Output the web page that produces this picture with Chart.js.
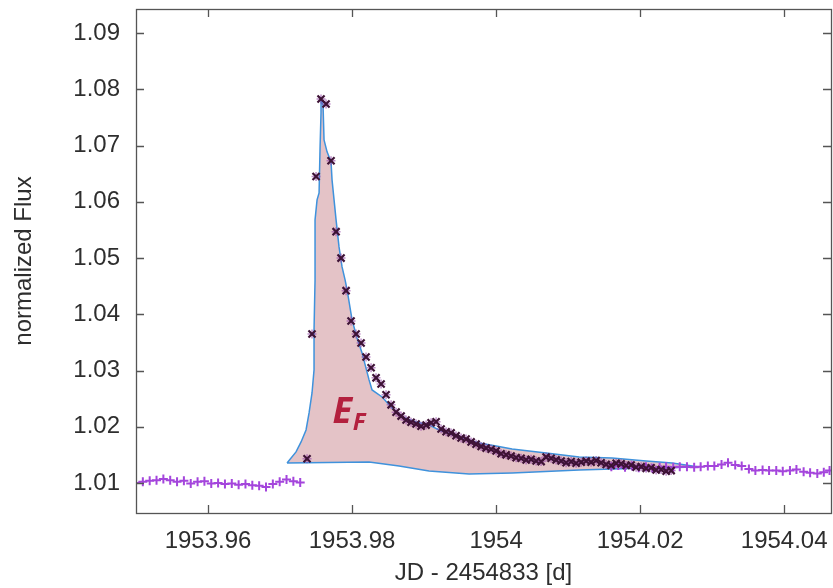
<!DOCTYPE html>
<html>
<head>
<meta charset="utf-8">
<script src="https://cdn.jsdelivr.net/npm/chart.js@4.4.1/dist/chart.umd.min.js"></script>
<style>
  html, body { margin: 0; padding: 0; background: #fff; }
  #wrap { width: 833px; height: 588px; }
</style>
</head>
<body>
<div id="wrap"><canvas id="lc"></canvas></div>
<script>
// --- AXIS TICKS ---
const xTicks = [1953.96, 1953.98, 1954.00, 1954.02, 1954.04];
const yTicks = [1.01, 1.02, 1.03, 1.04, 1.05, 1.06, 1.07, 1.08, 1.09];

// --- QUIET LIGHT CURVE (before the flare) ---
const quietBeforeT = [1953.9500, 1953.95095, 1953.9519, 1953.95285, 1953.9538, 1953.95475, 1953.9557,
  1953.95665, 1953.9576, 1953.95855, 1953.9595, 1953.96045, 1953.9614, 1953.96235, 1953.9633,
  1953.96425, 1953.9652, 1953.96615, 1953.9671, 1953.96805, 1953.969, 1953.96995, 1953.9709,
  1953.97185, 1953.9728];
const quietBeforeF = [1.0100, 1.0102, 1.0104, 1.0105, 1.0107, 1.0105, 1.0102, 1.0104, 1.0099,
  1.0102, 1.0103, 1.0099, 1.0100, 1.0098, 1.0099, 1.0097, 1.0098, 1.0096, 1.0095, 1.0093,
  1.0098, 1.0102, 1.0106, 1.0103, 1.0101];

// --- FLARE POINTS ---
const flareT = [1953.97375, 1953.97444, 1953.97500, 1953.97569, 1953.97639, 1953.97708, 1953.97778,
  1953.97847, 1953.97917, 1953.97986, 1953.98056, 1953.98125, 1953.98194, 1953.98264, 1953.98333,
  1953.98403, 1953.98472, 1953.98542, 1953.98611, 1953.98681, 1953.98750, 1953.98819, 1953.98889,
  1953.98958, 1953.99028, 1953.99097, 1953.99167, 1953.99236, 1953.99306, 1953.99375, 1953.99444,
  1953.99514, 1953.99583, 1953.99653, 1953.99722, 1953.99792, 1953.99861, 1953.99931, 1954.00000,
  1954.00069, 1954.00139, 1954.00208, 1954.00278, 1954.00347, 1954.00417, 1954.00486, 1954.00556,
  1954.00625, 1954.00694, 1954.00764, 1954.00833, 1954.00903, 1954.00972, 1954.01042, 1954.01111,
  1954.01181, 1954.01250, 1954.01319, 1954.01389, 1954.01458, 1954.01528, 1954.01597, 1954.01667,
  1954.01736, 1954.01806, 1954.01875, 1954.01944, 1954.02014, 1954.02083, 1954.02153, 1954.02222,
  1954.02292, 1954.02361, 1954.02431];
const flareF = [1.0143, 1.0365, 1.0645, 1.0783, 1.0774, 1.0673, 1.0547, 1.0500, 1.0442, 1.0388,
  1.0365, 1.0349, 1.0324, 1.0305, 1.0287, 1.0276, 1.0257, 1.0239, 1.0226, 1.0219,
  1.0212, 1.0208, 1.0205, 1.0201, 1.0203, 1.0207, 1.0209, 1.0196, 1.0191, 1.0189,
  1.0184, 1.0180, 1.0178, 1.0173, 1.0169, 1.0165, 1.0162, 1.0160, 1.0157, 1.0152,
  1.0150, 1.0148, 1.0145, 1.0144, 1.0141, 1.0142, 1.0139, 1.0138, 1.0146, 1.0144,
  1.0141, 1.0139, 1.0136, 1.0138, 1.0135, 1.0137, 1.0139, 1.0137, 1.0140, 1.0136,
  1.0133, 1.0131, 1.0135, 1.0134, 1.0131, 1.0132, 1.0128, 1.0129, 1.0126, 1.0127,
  1.0123, 1.0124, 1.0121, 1.0122];

// --- QUIET LIGHT CURVE (after the flare) ---
const quietAfterT = [1954.0160, 1954.01696, 1954.0179, 1954.01887, 1954.0198, 1954.0208, 1954.0217,
  1954.0227, 1954.0236, 1954.0246, 1954.0255, 1954.0265, 1954.0275, 1954.0284, 1954.0294,
  1954.0303, 1954.0313, 1954.0322, 1954.0332, 1954.0341, 1954.0351, 1954.0360, 1954.0370,
  1954.0379, 1954.0389, 1954.0398, 1954.0408, 1954.0417, 1954.0427, 1954.0436, 1954.0446,
  1954.0455, 1954.0463];
const quietAfterF = [1.0129, 1.0131, 1.0128, 1.0130, 1.0127, 1.0129, 1.0126, 1.0128, 1.0129,
  1.0128, 1.0129, 1.0129, 1.0128, 1.0129, 1.0130, 1.0130, 1.0133, 1.0136, 1.0132, 1.0130,
  1.0125, 1.0122, 1.0123, 1.0122, 1.0122, 1.0121, 1.0122, 1.0124, 1.0120, 1.0118, 1.0117,
  1.0119, 1.0122];

// --- FLARE ENERGY AREA (closed outline) ---
const areaT = [1953.97097, 1953.97222, 1953.97292, 1953.97361, 1953.97403, 1953.97444, 1953.97472,
  1953.97472, 1953.97486, 1953.97486, 1953.97514, 1953.97542, 1953.97556, 1953.97569, 1953.97569,
  1953.97597, 1953.97611, 1953.97653, 1953.97708, 1953.97722, 1953.97778, 1953.97819, 1953.97861,
  1953.97903, 1953.97931, 1953.98000, 1953.98069, 1953.98139, 1953.98236, 1953.98278, 1953.98417,
  1953.98542, 1953.98694, 1953.98889, 1953.99069, 1953.99208, 1953.99528, 1953.99764, 1954.00000,
  1954.00222, 1954.00694, 1954.01153, 1954.01611, 1954.02083, 1954.02444, 1954.02819,
  1954.02083, 1954.01153, 1954.00222, 1953.99625, 1953.99069, 1953.98653, 1953.98236, 1953.97097];
const areaF = [1.01356, 1.01552, 1.01730, 1.01943, 1.02246, 1.02601, 1.03011,
  1.03722, 1.04612, 1.05680, 1.06036, 1.06160, 1.06979, 1.07584, 1.07815,
  1.07726, 1.07103, 1.06890, 1.06712, 1.06391, 1.05680, 1.05199, 1.04843,
  1.04612, 1.04434, 1.03900, 1.03580, 1.03313, 1.02833, 1.02655, 1.02530,
  1.02352, 1.02174, 1.02085, 1.02032, 1.01943, 1.01801, 1.01712, 1.01658,
  1.01605, 1.01534, 1.01463, 1.01445, 1.01391, 1.01356, 1.01285,
  1.01267, 1.01231, 1.01178, 1.01160, 1.01214, 1.01302, 1.01374, 1.01356];

const toPoints = (t, f) => t.map((v, i) => ({ x: v, y: f[i] }));

const TEXT = '#2e2e2e';
const FRAME = '#555555';
const FONT = '"Liberation Sans", Arial, sans-serif';

// frame with inward ticks on all four sides + the E_F label
const framePlugin = {
  id: 'frame',
  afterDatasetsDraw(chart) {
    const { ctx, chartArea: a, scales: { x, y } } = chart;
    ctx.save();
    ctx.strokeStyle = FRAME;
    ctx.lineWidth = 1.3;
    ctx.beginPath();
    xTicks.forEach(v => {
      const px = Math.round(x.getPixelForValue(v)) + 0.5;
      ctx.moveTo(px, a.bottom); ctx.lineTo(px, a.bottom - 8);
      ctx.moveTo(px, a.top); ctx.lineTo(px, a.top + 8);
    });
    yTicks.forEach(v => {
      const py = Math.round(y.getPixelForValue(v)) + 0.5;
      ctx.moveTo(a.left, py); ctx.lineTo(a.left + 8, py);
      ctx.moveTo(a.right, py); ctx.lineTo(a.right - 8, py);
    });
    ctx.stroke();
    ctx.strokeRect(Math.round(a.left) + 0.5, Math.round(a.top) + 0.5,
      Math.round(a.right - a.left), Math.round(a.bottom - a.top));

    // E_F annotation
    ctx.fillStyle = '#b3203e';
    ctx.textBaseline = 'alphabetic';
    ctx.font = 'italic bold 36px "Open Sans"';
    ctx.fillText('E', x.getPixelForValue(1953.9773), y.getPixelForValue(1.0206));
    ctx.font = 'italic bold 24px "Open Sans"';
    ctx.fillText('F', x.getPixelForValue(1953.98010), y.getPixelForValue(1.01935));
    ctx.restore();
  }
};

new Chart(document.getElementById('lc'), {
  type: 'scatter',
  data: {
    datasets: [
      {
        // flare points, dark x on top
        data: toPoints(flareT, flareF),
        pointStyle: 'crossRot',
        pointRadius: 5,
        borderColor: '#3e1236',
        pointBorderWidth: 2.2,
        order: 0
      },
      {
        data: toPoints(flareT, flareF),
        pointStyle: 'cross',
        pointRadius: 4.5,
        borderColor: 'rgba(150,70,170,0.6)',
        pointBorderWidth: 1.5,
        order: 1
      },
      {
        data: toPoints(quietBeforeT, quietBeforeF),
        pointStyle: 'cross',
        pointRadius: 4.5,
        borderColor: '#a445dc',
        pointBorderWidth: 2,
        order: 2
      },
      {
        data: toPoints(quietAfterT, quietAfterF),
        pointStyle: 'cross',
        pointRadius: 4.5,
        borderColor: '#a445dc',
        pointBorderWidth: 2,
        order: 2
      },
      {
        type: 'line',
        data: toPoints(areaT, areaF),
        showLine: true,
        fill: 'shape',
        backgroundColor: '#e4c3c7',
        borderColor: '#3f92dc',
        borderWidth: 1.5,
        pointRadius: 0,
        tension: 0,
        order: 5
      }
    ]
  },
  options: {
    responsive: true,
    maintainAspectRatio: false,
    animation: false,
    events: [],
    layout: { autoPadding: false, padding: { top: 9, right: 2, left: 0, bottom: 0 } },
    plugins: { legend: { display: false }, tooltip: { enabled: false } },
    scales: {
      x: {
        type: 'linear',
        min: 1953.9500,
        max: 1954.0465,
        afterFit: s => { s.height = 75; s.paddingLeft = 0; s.paddingRight = 0; },
        afterBuildTicks: s => { s.ticks = xTicks.map(v => ({ value: v })); },
        grid: { display: false, drawTicks: false },
        border: { display: false },
        ticks: {
          autoSkip: false,
          maxRotation: 0,
          padding: 14,
          color: TEXT,
          font: { family: FONT, size: 24 },
          callback: v => String(+v.toFixed(2))
        },
        title: {
          display: true,
          text: 'JD - 2454833 [d]',
          color: TEXT,
          font: { family: FONT, size: 24 },
          padding: { top: 0, bottom: 0 }
        }
      },
      y: {
        type: 'linear',
        min: 1.00466,
        max: 1.0943,
        afterFit: s => { s.width = 136; s.paddingTop = 0; s.paddingBottom = 0; },
        afterBuildTicks: s => { s.ticks = yTicks.map(v => ({ value: v })); },
        grid: { display: false, drawTicks: false },
        border: { display: false },
        ticks: {
          autoSkip: false,
          padding: 16,
          color: TEXT,
          font: { family: FONT, size: 24 },
          callback: v => v.toFixed(2)
        },
        title: {
          display: true,
          text: 'normalized Flux',
          color: TEXT,
          font: { family: FONT, size: 24 },
          padding: { top: 10, bottom: 0 }
        }
      }
    }
  },
  plugins: [framePlugin]
});
</script>
</body>
</html>
